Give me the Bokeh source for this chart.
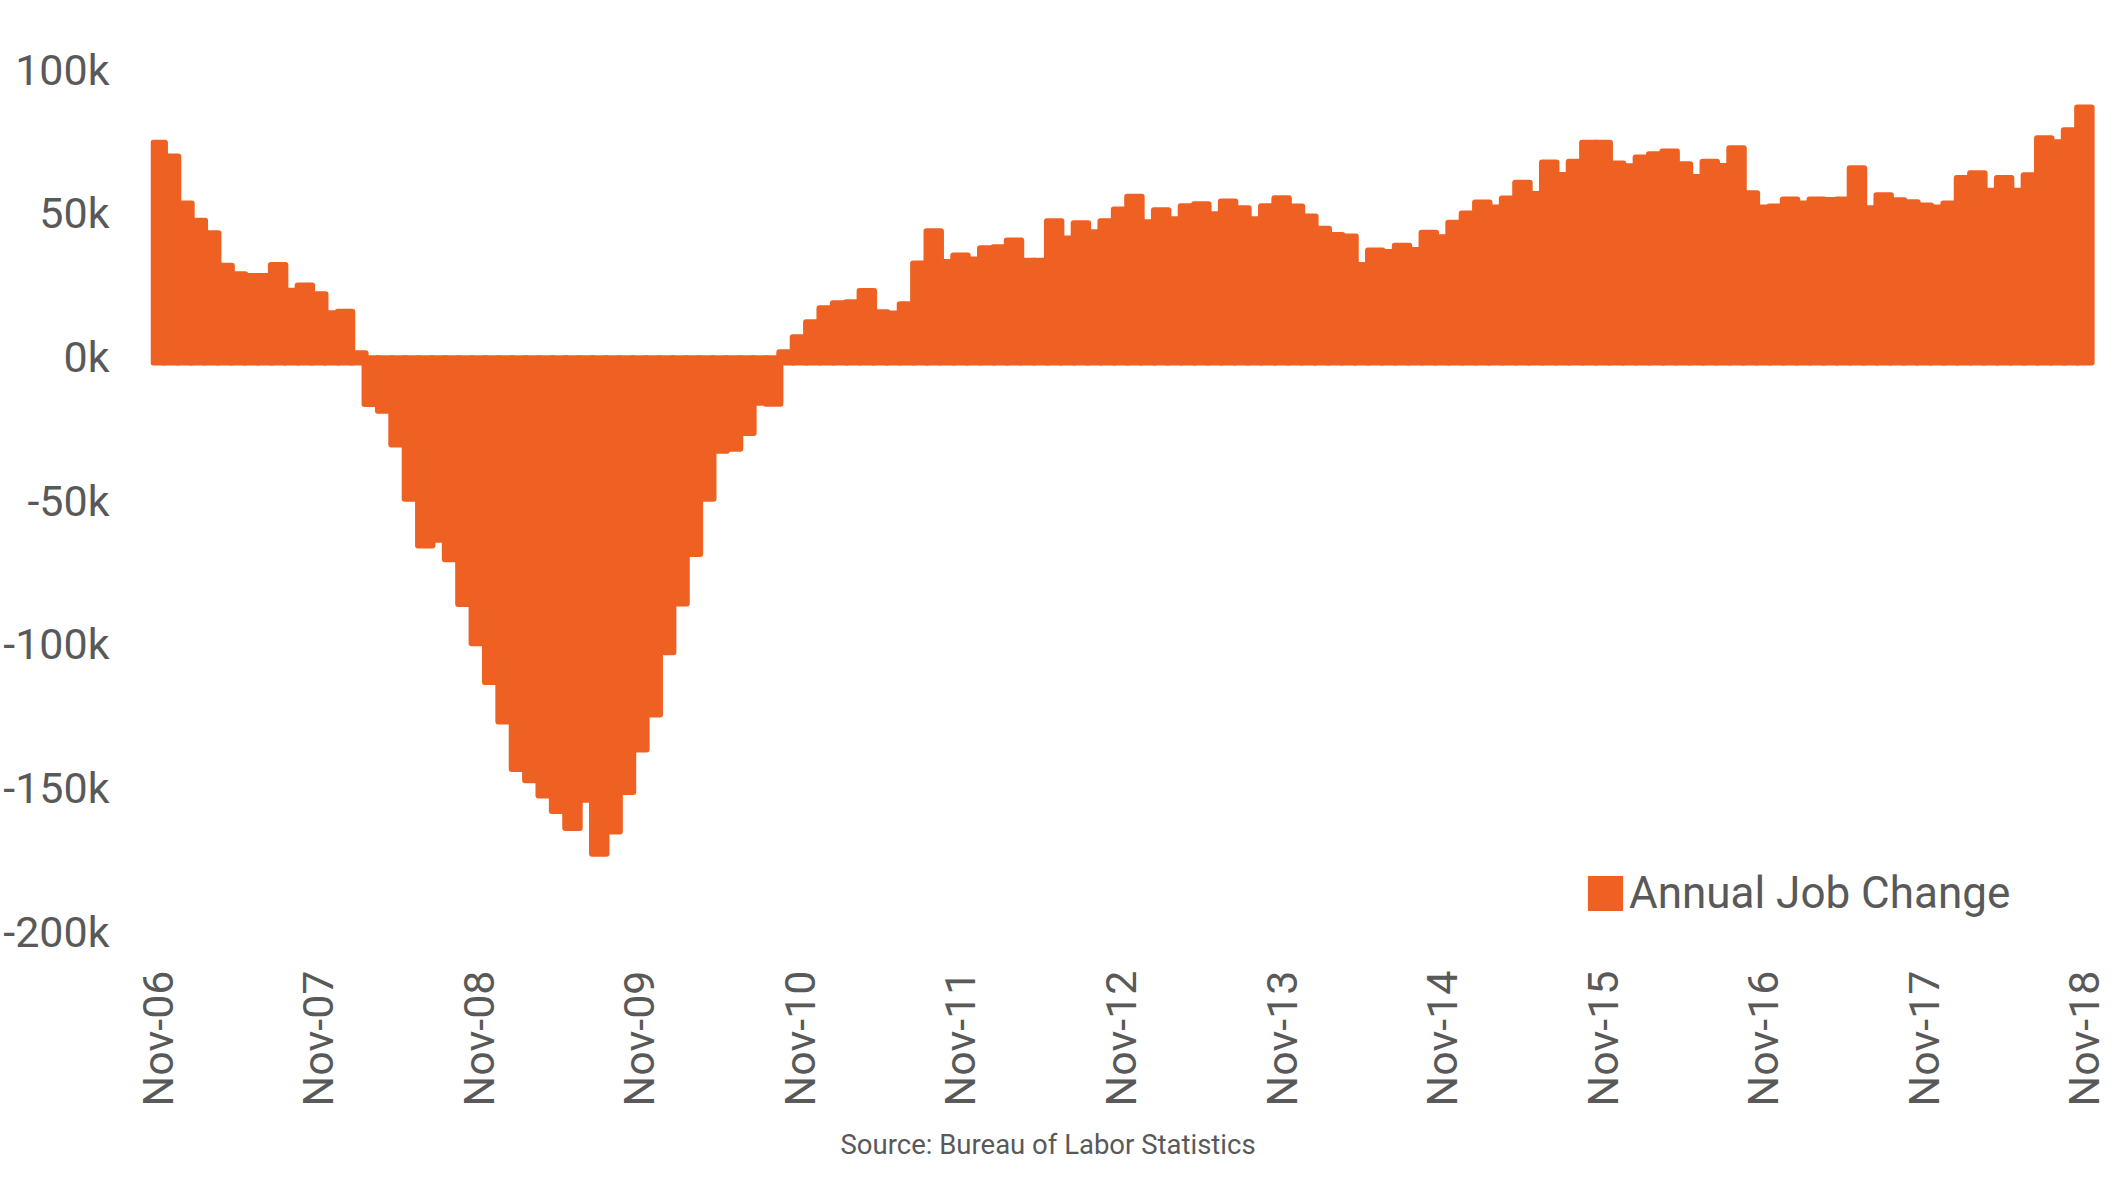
import numpy as np
from bokeh.plotting import figure
from bokeh.models import (ColumnDataSource, Range1d, FixedTicker, PrintfTickFormatter,
                          Legend, LegendItem, Title)
from bokeh.embed import file_html
from bokeh.resources import INLINE

# Annual job change (thousands), monthly Nov-06 .. Nov-18
job_change = [
    75.6, 70.8, 54.5, 48.5, 44.1, 32.8, 29.8, 29.2, 29.2, 33.1, 24.1, 25.9,
    22.9, 16.3, 16.8, 2.3, -17.4, -19.8, -31.5, -50.4, -66.7, -64.7, -71.5, -87.0,
    -100.7, -114.2, -127.9, -144.5, -148.4, -153.7, -159.1, -165.0, -155.2, -174.0, -166.2, -152.5,
    -137.7, -125.5, -103.8, -86.9, -69.6, -50.4, -33.7, -33.0, -27.5, -17.0, -17.3, 2.7,
    7.9, 13.1, 18.0, 19.7, 20.1, 24.0, 16.6, 16.2, 19.4, 33.6, 44.8, 34.1,
    36.4, 35.0, 38.9, 39.2, 41.6, 34.5, 34.5, 48.3, 42.3, 47.6, 44.5, 48.3,
    52.4, 56.8, 47.9, 52.1, 49.0, 53.5, 54.2, 50.7, 55.2, 52.8, 49.0, 53.5,
    56.3, 53.4, 49.9, 45.7, 43.5, 43.0, 33.1, 38.1, 37.6, 39.8, 38.3, 44.3,
    42.7, 47.8, 51.0, 54.8, 53.1, 56.2, 61.7, 57.8, 68.7, 64.4, 69.0, 75.6,
    75.6, 68.4, 67.4, 70.5, 71.6, 72.6, 68.1, 63.7, 69.0, 67.5, 73.7, 58.0,
    53.1, 53.4, 55.9, 54.5, 55.9, 55.7, 55.9, 66.7, 52.8, 57.3, 55.6, 54.9,
    53.8, 53.1, 54.5, 63.3, 65.0, 58.9, 63.3, 58.9, 64.3, 77.2, 75.8, 80.0,
    87.9,
]
tick_labels = ["Nov-06", "Nov-07", "Nov-08", "Nov-09", "Nov-10", "Nov-11", "Nov-12",
               "Nov-13", "Nov-14", "Nov-15", "Nov-16", "Nov-17", "Nov-18"]
y_ticks = [-200, -150, -100, -50, 0, 50, 100]

ORANGE = "#EE6123"
GRAY = "#595959"
FONT = "Roboto"

vals = np.array(job_change)
idx = np.arange(len(vals))
base = np.where(vals > 0, -3.0, 0.6)
src = ColumnDataSource(dict(x=idx, top=vals, bottom=base))

p = figure(width=2117, height=1194, output_backend="svg", toolbar_location=None,
           x_range=Range1d(-0.538, 144.83), y_range=Range1d(-200, 103.2),
           min_border_left=150, min_border_right=22, min_border_top=60,
           min_border_bottom=263, background_fill_color="white",
           border_fill_color="white", outline_line_color=None)

r = p.vbar(x="x", top="top", bottom="bottom", width=1.53, source=src,
           fill_color=ORANGE, line_color=None, border_radius=3)

p.xgrid.visible = False
p.ygrid.visible = False

xa = p.xaxis[0]
xa.ticker = FixedTicker(ticks=[i * 12 for i in range(len(tick_labels))])
xa.major_label_overrides = {i * 12: t for i, t in enumerate(tick_labels)}
xa.major_label_orientation = np.pi / 2
xa.axis_line_color = None
xa.major_tick_line_color = None
xa.minor_tick_line_color = None
xa.major_tick_out = 0
xa.major_tick_in = 0
xa.major_label_standoff = 39
xa.major_label_text_font = FONT
xa.major_label_text_font_size = "43px"
xa.major_label_text_color = GRAY

ya = p.yaxis[0]
ya.ticker = FixedTicker(ticks=y_ticks)
ya.formatter = PrintfTickFormatter(format="%dk")
ya.axis_line_color = None
ya.major_tick_line_color = None
ya.minor_tick_line_color = None
ya.major_tick_out = 0
ya.major_tick_in = 0
ya.major_label_standoff = 41
ya.major_label_text_font = FONT
ya.major_label_text_font_size = "43px"
ya.major_label_text_color = GRAY

legend = Legend(items=[LegendItem(label="Annual Job Change", renderers=[r])],
                location=(1433, 12), orientation="vertical",
                background_fill_alpha=0, border_line_color=None,
                padding=0, margin=0, spacing=0,
                glyph_width=44, glyph_height=44, label_height=44,
                label_standoff=2, label_text_font=FONT,
                label_text_font_size="44px", label_text_color=GRAY)
p.add_layout(legend)

source = Title(text="Source: Bureau of Labor Statistics", align="left", offset=690,
               text_font=FONT, text_font_size="27.5px", text_color=GRAY,
               text_font_style="normal", standoff=32)
p.add_layout(source, "below")

open("out.html", "w").write(file_html(p, INLINE))
